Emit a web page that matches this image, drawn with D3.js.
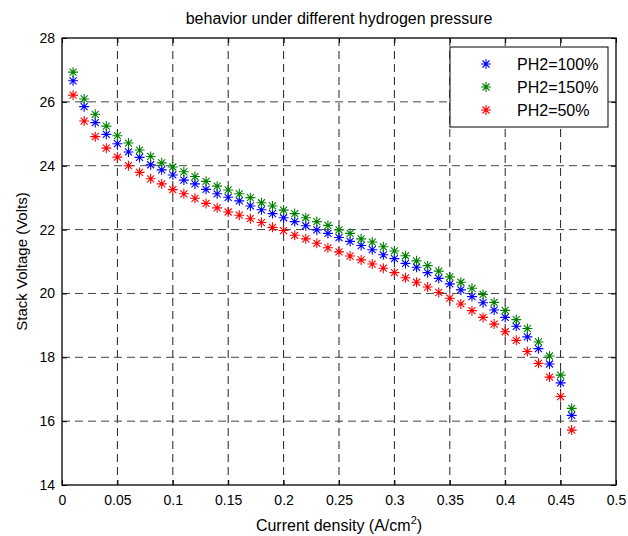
<!DOCTYPE html>
<html lang="en">
<head>
<meta charset="UTF-8">
<title>behavior under different hydrogen pressure</title>
<script src="https://d3js.org/d3.v7.min.js"></script>
<style>
    body { margin: 0; background: #fff; font-family: "Liberation Sans", Arial, sans-serif; }
    svg { display: block; }
    .tick text { font-size: 14px; fill: #000; }
</style>
</head>
<body>
<div id="chart"></div>
<script>
// Current density (A/cm2)
const current = [0.01, 0.02, 0.03, 0.04, 0.05, 0.06, 0.07, 0.08, 0.09, 0.10,
    0.11, 0.12, 0.13, 0.14, 0.15, 0.16, 0.17, 0.18, 0.19, 0.20,
    0.21, 0.22, 0.23, 0.24, 0.25, 0.26, 0.27, 0.28, 0.29, 0.30,
    0.31, 0.32, 0.33, 0.34, 0.35, 0.36, 0.37, 0.38, 0.39, 0.40,
    0.41, 0.42, 0.43, 0.44, 0.45, 0.46];

// Stack voltage (Volts) for each hydrogen pressure
const ph2_100 = [26.66, 25.85, 25.35, 24.98, 24.69, 24.43, 24.26, 24.03, 23.87, 23.71,
    23.55, 23.43, 23.26, 23.12, 23.01, 22.90, 22.74, 22.62, 22.50, 22.37,
    22.25, 22.12, 21.99, 21.88, 21.75, 21.63, 21.50, 21.37, 21.21, 21.09,
    20.94, 20.82, 20.65, 20.47, 20.30, 20.11, 19.90, 19.71, 19.48, 19.25,
    18.97, 18.64, 18.27, 17.79, 17.20, 16.18];
const ph2_150 = [26.93, 26.09, 25.61, 25.24, 24.94, 24.71, 24.49, 24.29, 24.09, 23.96,
    23.81, 23.66, 23.51, 23.36, 23.24, 23.12, 23.00, 22.84, 22.74, 22.61,
    22.50, 22.37, 22.25, 22.13, 21.99, 21.88, 21.71, 21.61, 21.46, 21.33,
    21.18, 21.02, 20.87, 20.70, 20.52, 20.35, 20.16, 19.97, 19.72, 19.47,
    19.18, 18.90, 18.48, 18.04, 17.44, 16.40];
const ph2_50 = [26.21, 25.40, 24.91, 24.55, 24.27, 24.00, 23.79, 23.59, 23.43, 23.25,
    23.12, 22.98, 22.82, 22.68, 22.55, 22.45, 22.34, 22.22, 22.07, 21.97,
    21.82, 21.71, 21.57, 21.43, 21.30, 21.17, 21.05, 20.92, 20.79, 20.65,
    20.49, 20.35, 20.20, 20.03, 19.85, 19.67, 19.46, 19.25, 19.04, 18.80,
    18.53, 18.18, 17.81, 17.38, 16.77, 15.72];

const seriesNames = ["PH2=100%", "PH2=150%", "PH2=50%"];
const seriesColors = ["#0000ff", "#008000", "#ff0000"];
const seriesValues = [ph2_100, ph2_150, ph2_50];

const xTicks = [0, 0.05, 0.1, 0.15, 0.2, 0.25, 0.3, 0.35, 0.4, 0.45, 0.5];
const yTicks = [14, 16, 18, 20, 22, 24, 26, 28];

const width = 628, height = 536;
const margin = { top: 38, right: 12, bottom: 51, left: 62 };
const innerW = width - margin.left - margin.right;
const innerH = height - margin.top - margin.bottom;

const svg = d3.select("#chart").append("svg")
    .attr("width", width)
    .attr("height", height);

const g = svg.append("g")
    .attr("transform", `translate(${margin.left},${margin.top})`);

const x = d3.scaleLinear().domain([0, 0.5]).range([0, innerW]);
const y = d3.scaleLinear().domain([14, 28]).range([innerH, 0]);

// Grid lines
g.append("g").selectAll("line")
    .data(xTicks.slice(1, -1))
    .join("line")
    .attr("x1", d => x(d)).attr("x2", d => x(d))
    .attr("y1", 0).attr("y2", innerH)
    .attr("stroke", "#222").attr("stroke-width", 1)
    .attr("stroke-dasharray", "8,5");

g.append("g").selectAll("line")
    .data(yTicks.slice(1, -1))
    .join("line")
    .attr("x1", 0).attr("x2", innerW)
    .attr("y1", d => y(d)).attr("y2", d => y(d))
    .attr("stroke", "#444").attr("stroke-width", 1)
    .attr("stroke-dasharray", "8,5");

// Axes (ticks point inward, like MATLAB)
const fmt = d => d3.format("~g")(d);
const xAxis = g.append("g")
    .attr("transform", `translate(0,${innerH})`)
    .call(d3.axisBottom(x).tickValues(xTicks).tickFormat(fmt).tickSizeInner(-5).tickSizeOuter(0).tickPadding(10));
const xTop = g.append("g")
    .call(d3.axisTop(x).tickValues(xTicks).tickFormat("").tickSizeInner(-5).tickSizeOuter(0));
const yAxis = g.append("g")
    .call(d3.axisLeft(y).tickValues(yTicks).tickFormat(fmt).tickSizeInner(-5).tickSizeOuter(0).tickPadding(7));
const yRight = g.append("g")
    .attr("transform", `translate(${innerW},0)`)
    .call(d3.axisRight(y).tickValues(yTicks).tickFormat("").tickSizeInner(-5).tickSizeOuter(0));

[xAxis, xTop, yAxis, yRight].forEach(a => {
    a.select(".domain").remove();
    a.selectAll(".tick line").attr("stroke", "#000");
    a.selectAll("text").style("font-family", "'Liberation Sans', Arial, sans-serif");
});

// Box
g.append("rect")
    .attr("x", 0).attr("y", 0)
    .attr("width", innerW).attr("height", innerH)
    .attr("fill", "none").attr("stroke", "#000").attr("stroke-width", 1.3);

// Asterisk marker
const r = 5, dg = 3.5;
const star = `M${-r},0H${r}M0,${-r}V${r}M${-dg},${-dg}L${dg},${dg}M${-dg},${dg}L${dg},${-dg}`;

seriesValues.forEach((vals, i) => {
    g.append("g").selectAll("path")
        .data(vals)
        .join("path")
        .attr("transform", (d, j) => `translate(${x(current[j])},${y(d)})`)
        .attr("d", star)
        .attr("fill", "none")
        .attr("stroke", seriesColors[i])
        .attr("stroke-width", 1.1);
});

// Legend
const legend = g.append("g").attr("transform", `translate(${450 - margin.left},${47 - margin.top})`);
legend.append("rect")
    .attr("width", 158).attr("height", 80)
    .attr("fill", "#fff").attr("stroke", "#000").attr("stroke-width", 1);
seriesNames.forEach((name, i) => {
    const row = legend.append("g").attr("transform", `translate(0,${17 + i * 23})`);
    row.append("path")
        .attr("transform", "translate(36,0)")
        .attr("d", star)
        .attr("fill", "none")
        .attr("stroke", seriesColors[i])
        .attr("stroke-width", 1.1);
    row.append("text")
        .attr("x", 67).attr("y", 6)
        .style("font-size", "16px")
        .text(name);
});

// Title and axis labels
svg.append("text")
    .attr("x", margin.left + innerW / 2).attr("y", 24)
    .attr("text-anchor", "middle")
    .style("font-size", "16px")
    .text("behavior under different hydrogen pressure");

const xl = svg.append("text")
    .attr("x", margin.left + innerW / 2).attr("y", 531)
    .attr("text-anchor", "middle")
    .style("font-size", "16px");
xl.append("tspan").text("Current density (A/cm");
xl.append("tspan").attr("dy", -7).style("font-size", "11px").text("2");
xl.append("tspan").attr("dy", 7).text(")");

svg.append("text")
    .attr("transform", `translate(27,${margin.top + innerH / 2}) rotate(-90)`)
    .attr("text-anchor", "middle")
    .style("font-size", "15px")
    .text("Stack Voltage (Volts)");
</script>
</body>
</html>
